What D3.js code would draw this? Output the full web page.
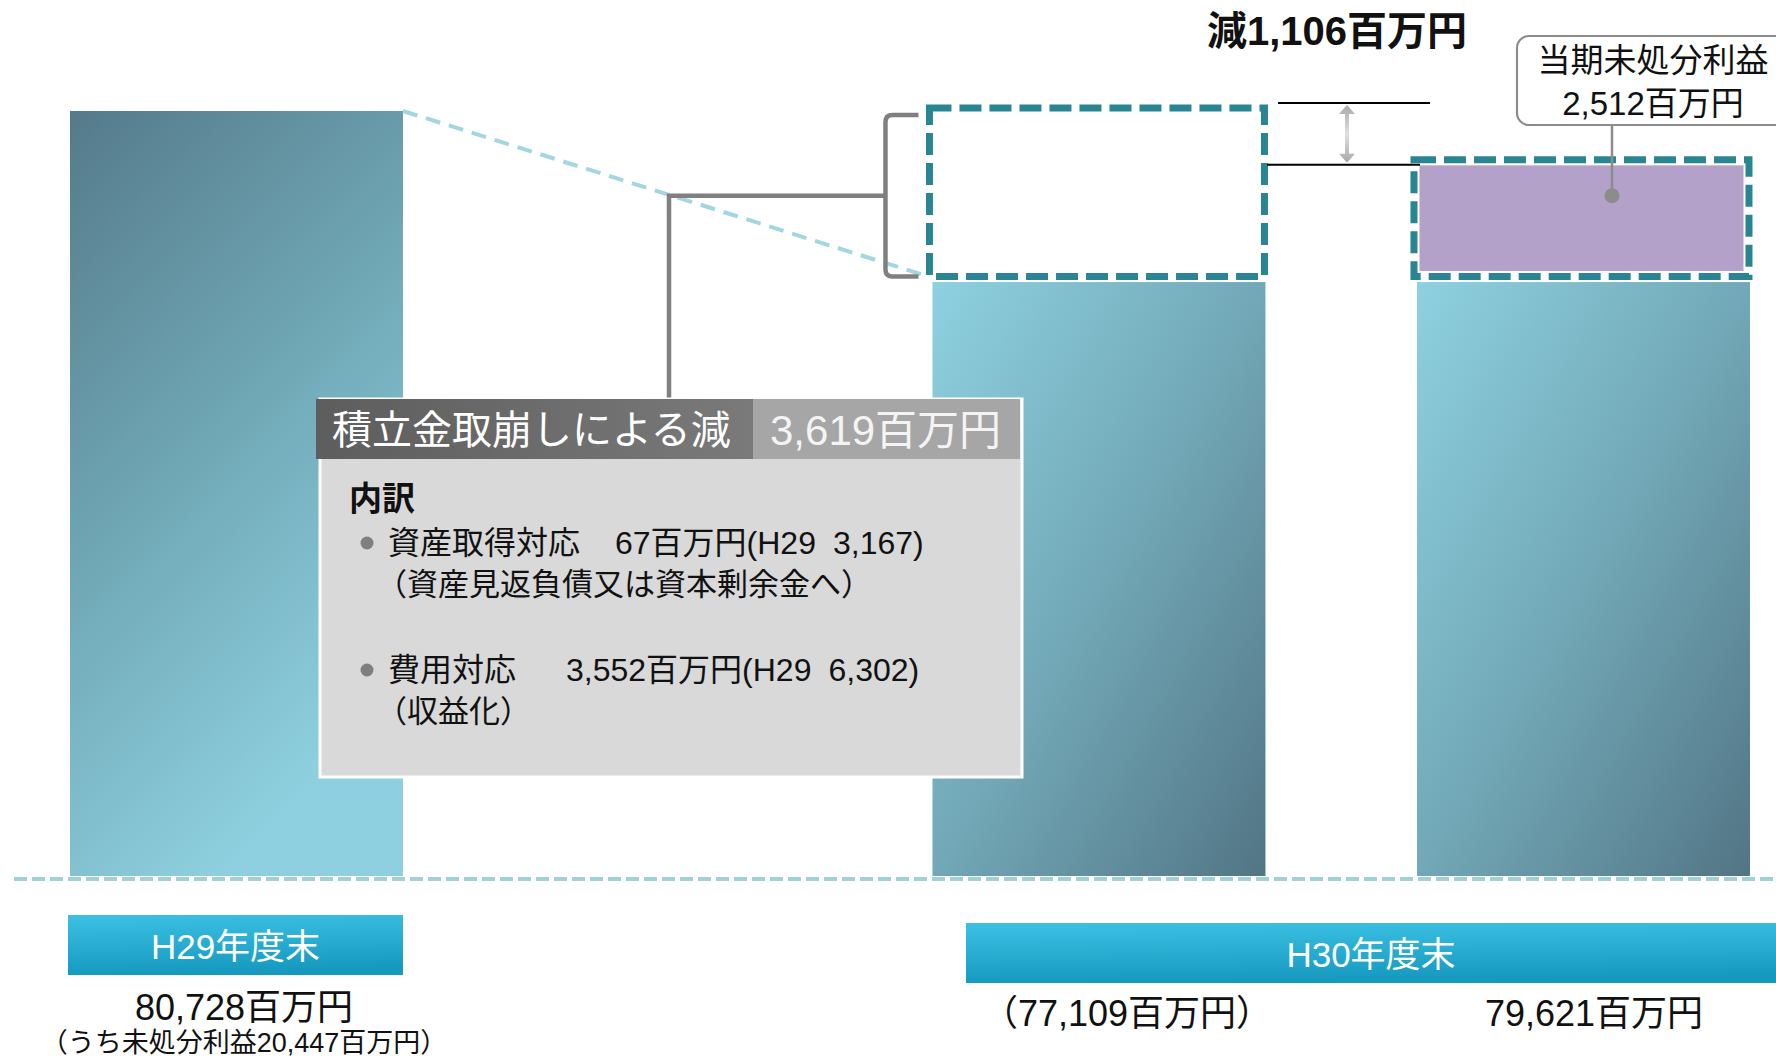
<!DOCTYPE html>
<html lang="ja">
<head>
<meta charset="utf-8">
<script src="https://cdn.jsdelivr.net/npm/d3@7"></script>
<style>
  html, body { margin: 0; padding: 0; background: #fff; }
  svg { display: block; }
  text { font-family: "Liberation Sans", "Noto Sans CJK JP", sans-serif; }
</style>
</head>
<body>
<svg id="chart" width="1776" height="1061"></svg>
<script>
// ---- data (百万円) ----
const periods = ["H29年度末", "H30年度末"];
const columnKeys = ["h29", "h30_after_withdrawal", "h30"];
const columnPeriod = [0, 1, 1];
const solidValues = [80728, 77109, 77109];        // solid bar height
const capValues = [0, 3619, 2512];                // dashed cap: withdrawn reserves / current profit
const valueLabels = ["80,728百万円", "（77,109百万円）", "79,621百万円"];
const h29Note = "（うち未処分利益20,447百万円）";

const decreaseValue = 1106;
const decreaseLabel = "減1,106百万円";

const withdrawalTitle = "積立金取崩しによる減";
const withdrawalAmount = "3,619百万円";
const breakdownHeading = "内訳";
const breakdownItems = ["資産取得対応", "費用対応"];
const breakdownAmounts = ["67百万円(H29", "3,552百万円(H29"];
const breakdownPrev = ["3,167)", "6,302)"];
const breakdownNotes = ["（資産見返負債又は資本剰余金へ）", "（収益化）"];

const profitLabel = ["当期未処分利益", "2,512百万円"];

// ---- layout ----
const W = 1776, H = 1061;
const columnSlots = [0, 2.59, 4.045];             // horizontal slot of each column, in bar widths
const x = d3.scaleLinear().domain([0, 1]).range([70, 403]);
const barW = x(1) - x(0);
const y = d3.scaleLinear().domain([64400, 80728]).range([876, 111]);

const svg = d3.select("#chart");
const defs = svg.append("defs");

function linGrad(id, x1, y1, x2, y2, stops) {
  const g = defs.append("linearGradient").attr("id", id)
    .attr("x1", x1).attr("y1", y1).attr("x2", x2).attr("y2", y2);
  stops.forEach(([o, c]) => g.append("stop").attr("offset", o).attr("stop-color", c));
}
linGrad("barDark", 0, 0, 0.45, 1, [[0, "#557a8a"], [0.5, "#6fa6b4"], [1, "#8ed0df"]]);
linGrad("barLight", 0, 0, 1, 1, [[0, "#8ed1e0"], [0.5, "#72a8b7"], [1, "#527585"]]);
linGrad("periodFill", 0, 0, 0.15, 1, [[0, "#3cc1e4"], [1, "#1699bf"]]);
linGrad("headerFill", 0, 0, 1, 0, [[0, "#5d5d5d"], [1, "#7a7a7a"]]);
linGrad("arrowFill", 0, 0, 0, 1, [[0, "#a8a8a8"], [0.5, "#e0e0e0"], [1, "#a8a8a8"]]);

const colX = i => x(columnSlots[i]);

// ---- baseline ----
svg.append("line")
  .attr("x1", 14).attr("x2", W)
  .attr("y1", y(64400) + 3).attr("y2", y(64400) + 3)
  .attr("stroke", "#9fd1d9").attr("stroke-width", 4)
  .attr("stroke-dasharray", "13 5");

// ---- solid bars ----
svg.selectAll("rect.bar").data(columnKeys).join("rect")
  .attr("class", "bar")
  .attr("x", (d, i) => colX(i))
  .attr("y", (d, i) => y(solidValues[i]))
  .attr("width", barW)
  .attr("height", (d, i) => y(64400) - y(solidValues[i]))
  .attr("fill", (d, i) => i === 0 ? "url(#barDark)" : "url(#barLight)");

// ---- slanted guide from H29 top to the withdrawn cap ----
svg.append("line")
  .attr("x1", colX(0) + barW).attr("y1", y(solidValues[0]))
  .attr("x2", colX(1) - 4).attr("y2", y(solidValues[1]) - 4)
  .attr("stroke", "#a3d6e0").attr("stroke-width", 4)
  .attr("stroke-dasharray", "15 9");

// ---- dashed caps ----
const capIdx = [1, 2];
capIdx.forEach(i => {
  const top = y(solidValues[i] + capValues[i]) - 3;
  const bottom = y(solidValues[i]) - 4;
  const cx = colX(i) - 3, cw = barW + 2;
  svg.append("rect")
    .attr("x", cx).attr("y", top).attr("width", cw).attr("height", bottom - top)
    .attr("fill", i === 2 ? "#b4a1c9" : "#ffffff")
    .attr("stroke", "#ffffff").attr("stroke-width", 11);
  svg.append("rect")
    .attr("x", cx).attr("y", top).attr("width", cw).attr("height", bottom - top)
    .attr("fill", "none")
    .attr("stroke", "#2a8593").attr("stroke-width", 7)
    .attr("stroke-dasharray", "22 8");
});

// ---- bracket and connector to the breakdown callout ----
const callout = { x: 318, y: 399, w: 704, h: 378, headH: 60, split: 753 };
const bTop = y(solidValues[1] + capValues[1]) + 4;
const bBot = y(solidValues[1]) - 4;
const bX = colX(1) - 47, bArm = colX(1) - 14;
svg.append("path")
  .attr("d", `M${bArm},${bTop} L${bX + 7},${bTop} Q${bX},${bTop} ${bX},${bTop + 7}
              L${bX},${bBot - 7} Q${bX},${bBot} ${bX + 7},${bBot} L${bArm},${bBot}`)
  .attr("fill", "none").attr("stroke", "#808080").attr("stroke-width", 4.5);
const midY = (bTop + bBot) / 2;
svg.append("path")
  .attr("d", `M${bX},${midY} H${669} V${callout.y}`)
  .attr("fill", "none").attr("stroke", "#808080").attr("stroke-width", 4.5);

// ---- breakdown callout ----
const cg = svg.append("g");
cg.append("rect")
  .attr("x", callout.x + 2).attr("y", callout.y).attr("width", callout.w - 2).attr("height", callout.h)
  .attr("fill", "#d9d9d9").attr("stroke", "#ffffff").attr("stroke-width", 3);
cg.append("rect")
  .attr("x", callout.x - 2).attr("y", callout.y).attr("width", callout.split - callout.x + 2).attr("height", callout.headH)
  .attr("fill", "url(#headerFill)");
cg.append("rect")
  .attr("x", callout.split).attr("y", callout.y).attr("width", callout.x + callout.w - callout.split - 2).attr("height", callout.headH)
  .attr("fill", "#a6a6a6");
cg.append("text")
  .attr("x", 332).attr("y", callout.y + callout.headH / 2 + 1)
  .attr("dominant-baseline", "central")
  .attr("fill", "#ffffff").attr("font-size", 40)
  .text(withdrawalTitle);
cg.append("text")
  .attr("x", 770).attr("y", callout.y + callout.headH / 2 + 1)
  .attr("dominant-baseline", "central")
  .attr("fill", "#f4f4f4").attr("font-size", 42)
  .text(withdrawalAmount);
cg.append("text")
  .attr("x", 349).attr("y", 498)
  .attr("dominant-baseline", "central")
  .attr("font-size", 33).attr("font-weight", 700).attr("fill", "#111")
  .text(breakdownHeading);

const itemY = [543, 670];
const amountX = [615, 566];
breakdownItems.forEach((item, i) => {
  cg.append("circle").attr("cx", 367).attr("cy", itemY[i]).attr("r", 6.5).attr("fill", "#7f7f7f");
  const t = cg.append("text")
    .attr("y", itemY[i]).attr("dominant-baseline", "central")
    .attr("font-size", 32).attr("fill", "#111");
  t.append("tspan").attr("x", 388).text(item);
  t.append("tspan").attr("x", amountX[i]).text(breakdownAmounts[i]);
  t.append("tspan").attr("dx", 17).text(breakdownPrev[i]);
  cg.append("text")
    .attr("x", 376).attr("y", itemY[i] + 41).attr("dominant-baseline", "central")
    .attr("font-size", 31).attr("fill", "#111")
    .text(breakdownNotes[i]);
});

// ---- decrease marker between H29 level and H30 level ----
const lvTop = y(solidValues[0]) - 8;
const lvBot = y(solidValues[0] - decreaseValue) + 2;
svg.append("line").attr("x1", 1278).attr("x2", 1430).attr("y1", lvTop).attr("y2", lvTop)
  .attr("stroke", "#000").attr("stroke-width", 2);
svg.append("line").attr("x1", 1267).attr("x2", 1420).attr("y1", lvBot).attr("y2", lvBot)
  .attr("stroke", "#000").attr("stroke-width", 2);
const ax = 1347;
svg.append("path")
  .attr("d", `M${ax},${lvTop + 2} L${ax - 8},${lvTop + 11} L${ax - 2},${lvTop + 11} L${ax - 2},${lvBot - 11}
              L${ax - 8},${lvBot - 11} L${ax},${lvBot - 2} L${ax + 8},${lvBot - 11} L${ax + 2},${lvBot - 11}
              L${ax + 2},${lvTop + 11} L${ax + 8},${lvTop + 11} Z`)
  .attr("fill", "url(#arrowFill)");
svg.append("text")
  .attr("x", 1337).attr("y", 31).attr("text-anchor", "middle").attr("dominant-baseline", "central")
  .attr("font-family", "'Noto Sans CJK JP', sans-serif")
  .attr("font-size", 40).attr("font-weight", 700).attr("fill", "#111")
  .text(decreaseLabel);

// ---- current profit callout ----
const pBox = { x: 1517, y: 36, w: 300, h: 89 };
svg.append("rect")
  .attr("x", pBox.x).attr("y", pBox.y).attr("width", pBox.w).attr("height", pBox.h)
  .attr("rx", 12).attr("fill", "#fff").attr("stroke", "#8c8c8c").attr("stroke-width", 2.2);
profitLabel.forEach((s, i) => {
  svg.append("text")
    .attr("x", 1653).attr("y", 60 + i * 43).attr("text-anchor", "middle").attr("dominant-baseline", "central")
    .attr("font-size", 33).attr("fill", "#111").text(s);
});
const dotY = y(solidValues[2] + capValues[2]) + 0.28 * (y(solidValues[2]) - y(solidValues[2] + capValues[2]));
svg.append("line").attr("x1", 1612).attr("x2", 1612).attr("y1", pBox.y + pBox.h).attr("y2", dotY)
  .attr("stroke", "#8c8c8c").attr("stroke-width", 2.5);
svg.append("circle").attr("cx", 1612).attr("cy", dotY).attr("r", 7.5).attr("fill", "#8c8c8c");

// ---- period labels ----
const periodBoxes = [
  { x0: colX(0) - 2, x1: colX(0) + barW, y: 915 },
  { x0: 966, x1: W + 10, y: 923 }
];
periods.forEach((p, i) => {
  const b = periodBoxes[i];
  svg.append("rect").attr("x", b.x0).attr("y", b.y).attr("width", b.x1 - b.x0).attr("height", 60)
    .attr("fill", "url(#periodFill)");
  svg.append("text")
    .attr("x", (b.x0 + Math.min(b.x1, W)) / 2).attr("y", b.y + 31)
    .attr("text-anchor", "middle").attr("dominant-baseline", "central")
    .attr("font-size", 35).attr("fill", "#fff").text(p);
});

// ---- value labels ----
const labelX = [244, 1127, 1594];
valueLabels.forEach((s, i) => {
  svg.append("text")
    .attr("x", labelX[i]).attr("y", i === 0 ? 1007 : 1013)
    .attr("text-anchor", "middle").attr("dominant-baseline", "central")
    .attr("font-size", 36).attr("fill", "#111").text(s);
});
svg.append("text")
  .attr("x", 244).attr("y", 1043).attr("text-anchor", "middle").attr("dominant-baseline", "central")
  .attr("font-size", 27).attr("fill", "#111").text(h29Note);
</script>
</body>
</html>
